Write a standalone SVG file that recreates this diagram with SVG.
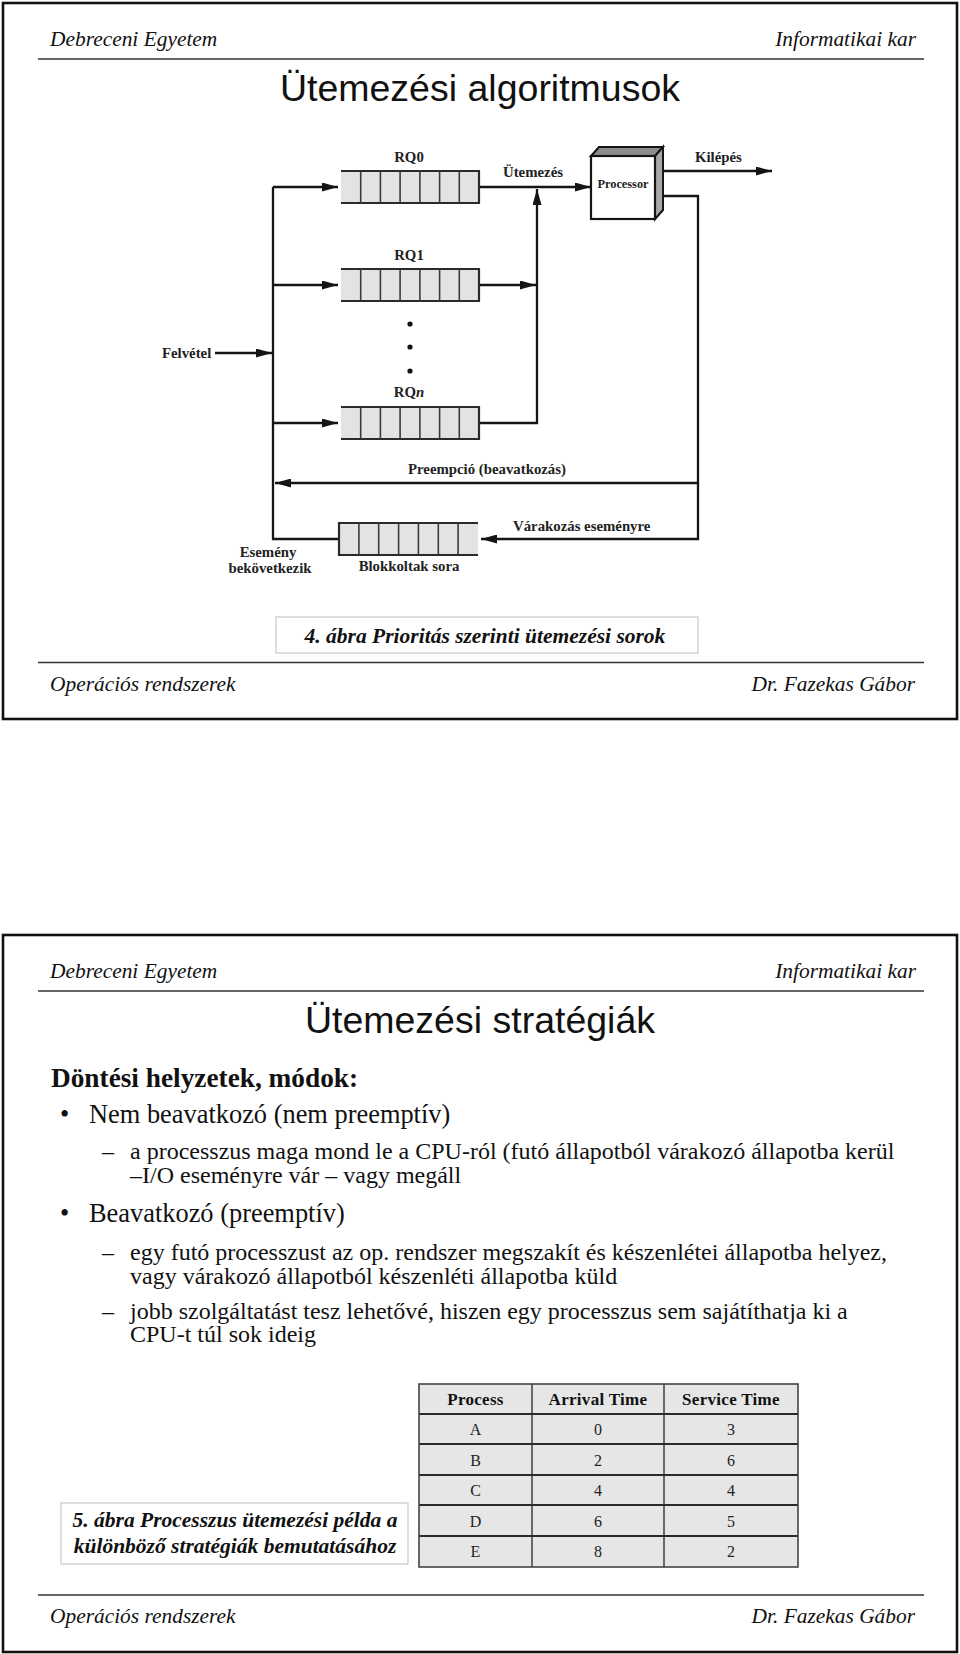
<svg xmlns="http://www.w3.org/2000/svg" width="960" height="1654" viewBox="0 0 960 1654">
<style>
.frame{fill:#fff;stroke:#111;stroke-width:2.6}
.rule{stroke:#333;stroke-width:1.5}
.hdr{font-family:"Liberation Serif",serif;font-style:italic;font-size:21.4px;fill:#111}
.title{font-family:"Liberation Sans",Arial,sans-serif;font-size:37.5px;fill:#111;text-anchor:middle}
.lbl{font-family:"Liberation Serif",serif;font-weight:bold;font-size:14.8px;fill:#222}
.plbl{font-family:"Liberation Serif",serif;font-weight:bold;font-size:12.3px;fill:#222;text-anchor:middle}
.c{text-anchor:middle}
.wire{fill:none;stroke:#151515;stroke-width:2.3}
.qfill{fill:#e3e3e3}
.qline{stroke:#2a2a2a;stroke-width:2.2}
.qdiv{stroke:#3a3a3a;stroke-width:1.6}
.cap{fill:#fff;stroke:#c8c8c8;stroke-width:1.2}
.captxt{font-family:"Liberation Serif",serif;font-style:italic;font-weight:bold;font-size:21.5px;fill:#111;text-anchor:middle}
.body{font-family:"Liberation Serif",serif;font-size:24px;fill:#111}
.l1{font-family:"Liberation Serif",serif;font-size:26.4px;fill:#111}
.bold{font-family:"Liberation Serif",serif;font-weight:bold;font-size:27.3px;fill:#111}
.cell{fill:#e6e6e6}
.th{font-family:"Liberation Serif",serif;font-weight:bold;font-size:17px;fill:#111;text-anchor:middle;letter-spacing:0.3px}
.td{font-family:"Liberation Serif",serif;font-size:16px;fill:#222;text-anchor:middle}
</style>
<defs>
<marker id="ah" markerUnits="userSpaceOnUse" markerWidth="16" markerHeight="9" refX="16" refY="4.5" orient="auto">
<path d="M0,0 L16,4.5 L0,9 z" fill="#151515"/>
</marker>
<g id="rq">
<rect class="qfill" x="0" y="0" width="138" height="32"/>
<line class="qline" x1="0" y1="0" x2="138" y2="0"/>
<line class="qline" x1="0" y1="32" x2="138" y2="32"/>
<line class="qdiv" x1="19.7" y1="0" x2="19.7" y2="32"/>
<line class="qdiv" x1="39.4" y1="0" x2="39.4" y2="32"/>
<line class="qdiv" x1="59.1" y1="0" x2="59.1" y2="32"/>
<line class="qdiv" x1="78.9" y1="0" x2="78.9" y2="32"/>
<line class="qdiv" x1="98.6" y1="0" x2="98.6" y2="32"/>
<line class="qdiv" x1="118.3" y1="0" x2="118.3" y2="32"/>
<line class="qline" x1="138" y1="-1" x2="138" y2="33"/>
</g>
<g id="bq">
<rect class="qfill" x="0" y="0" width="139" height="32"/>
<line class="qline" x1="0" y1="0" x2="139" y2="0"/>
<line class="qline" x1="0" y1="32" x2="139" y2="32"/>
<line class="qline" x1="0" y1="-1" x2="0" y2="33"/>
<line class="qdiv" x1="19.9" y1="0" x2="19.9" y2="32"/>
<line class="qdiv" x1="39.7" y1="0" x2="39.7" y2="32"/>
<line class="qdiv" x1="59.6" y1="0" x2="59.6" y2="32"/>
<line class="qdiv" x1="79.4" y1="0" x2="79.4" y2="32"/>
<line class="qdiv" x1="99.3" y1="0" x2="99.3" y2="32"/>
<line class="qdiv" x1="119.1" y1="0" x2="119.1" y2="32"/>
</g>
</defs>

<!-- Page 1 -->
<g id="page1">
<rect class="frame" x="3" y="3" width="954" height="716"/>
<text class="hdr" x="50" y="46">Debreceni Egyetem</text>
<text class="hdr" x="916" y="46" text-anchor="end">Informatikai kar</text>
<line class="rule" x1="38" y1="59" x2="924" y2="59"/>
<text class="title" x="480" y="101">Ütemezési algoritmusok</text>
<line class="rule" x1="38" y1="662.5" x2="924" y2="662.5"/>
<text class="hdr" x="50" y="691">Operációs rendszerek</text>
<text class="hdr" x="915" y="691" text-anchor="end">Dr. Fazekas Gábor</text>
</g>

<g id="connectors">
<line class="wire" x1="215" y1="353" x2="272" y2="353" marker-end="url(#ah)"/>
<path class="wire" d="M273,187 V539 H339"/>
<line class="wire" x1="273" y1="187" x2="338" y2="187" marker-end="url(#ah)"/>
<line class="wire" x1="273" y1="285" x2="338" y2="285" marker-end="url(#ah)"/>
<line class="wire" x1="273" y1="423" x2="338" y2="423" marker-end="url(#ah)"/>
<line class="wire" x1="479" y1="187" x2="591" y2="187" marker-end="url(#ah)"/>
<line class="wire" x1="479" y1="285" x2="536" y2="285" marker-end="url(#ah)"/>
<path class="wire" d="M479,423 H537 V189" marker-end="url(#ah)"/>
<line class="wire" x1="659" y1="171" x2="772" y2="171" marker-end="url(#ah)"/>
<path class="wire" d="M659,196 H698 V539 H481" marker-end="url(#ah)"/>
<line class="wire" x1="698" y1="483" x2="275" y2="483" marker-end="url(#ah)"/>
</g>

<g id="rq0">
<use href="#rq" x="341" y="171"/>
<text class="lbl c" x="409" y="162">RQ0</text>
</g>
<g id="rq1">
<use href="#rq" x="341" y="269"/>
<text class="lbl c" x="409" y="260">RQ1</text>
</g>
<g id="dots">
<circle cx="410" cy="324" r="2.6" fill="#111"/>
<circle cx="410" cy="347" r="2.6" fill="#111"/>
<circle cx="410" cy="371" r="2.6" fill="#111"/>
</g>
<g id="rqn">
<use href="#rq" x="341" y="407"/>
<text class="lbl c" x="409" y="397">RQ<tspan font-style="italic">n</tspan></text>
</g>
<g id="blokkolt">
<use href="#bq" x="339" y="523"/>
<text class="lbl c" x="409" y="571">Blokkoltak sora</text>
</g>
<g id="processor">
<polygon points="591,156 599,147 663,147 655,156" fill="#8c8c8c" stroke="#151515" stroke-width="2"/>
<polygon points="655,156 663,147 663,210 655,219" fill="#a8a8a8" stroke="#151515" stroke-width="2"/>
<rect x="591" y="156" width="64" height="63" fill="#fff" stroke="#151515" stroke-width="2.2"/>
<text class="plbl" x="623" y="188">Processor</text>
</g>
<g id="labels">
<text class="lbl" x="162" y="358">Felvétel</text>
<text class="lbl" x="503" y="177">Ütemezés</text>
<text class="lbl" x="695" y="162">Kilépés</text>
<text class="lbl" x="408" y="474">Preempció (beavatkozás)</text>
<text class="lbl" x="513" y="531">Várakozás eseményre</text>
<text class="lbl c" x="268" y="557">Esemény</text>
<text class="lbl c" x="270" y="573">bekövetkezik</text>
</g>
<g id="caption4">
<rect class="cap" x="276" y="617" width="422" height="36"/>
<text class="captxt" x="485" y="643">4. ábra Prioritás szerinti ütemezési sorok</text>
</g>

<!-- Page 2 -->
<g id="page2">
<rect class="frame" x="3" y="935" width="954" height="717"/>
<text class="hdr" x="50" y="978">Debreceni Egyetem</text>
<text class="hdr" x="916" y="978" text-anchor="end">Informatikai kar</text>
<line class="rule" x1="38" y1="991" x2="924" y2="991"/>
<text class="title" x="480" y="1033">Ütemezési stratégiák</text>
<line class="rule" x1="38" y1="1595" x2="924" y2="1595"/>
<text class="hdr" x="50" y="1623">Operációs rendszerek</text>
<text class="hdr" x="915" y="1623" text-anchor="end">Dr. Fazekas Gábor</text>
</g>
<g id="bodytext">
<text class="bold" x="51" y="1087">Döntési helyzetek, módok:</text>
<text class="l1" x="60" y="1123">•</text>
<text class="l1" x="89" y="1123">Nem beavatkozó (nem preemptív)</text>
<text class="body" x="102" y="1159">–</text>
<text class="body" x="130" y="1159">a processzus maga mond le a CPU-ról (futó állapotból várakozó állapotba kerül</text>
<text class="body" x="130" y="1183">–I/O eseményre vár – vagy megáll</text>
<text class="l1" x="60" y="1222">•</text>
<text class="l1" x="89" y="1222">Beavatkozó (preemptív)</text>
<text class="body" x="102" y="1260">–</text>
<text class="body" x="130" y="1260">egy futó processzust az op. rendszer megszakít és készenlétei állapotba helyez,</text>
<text class="body" x="130" y="1284">vagy várakozó állapotból készenléti állapotba küld</text>
<text class="body" x="102" y="1319">–</text>
<text class="body" x="130" y="1319">jobb szolgáltatást tesz lehetővé, hiszen egy processzus sem sajátíthatja ki a</text>
<text class="body" x="130" y="1342">CPU-t túl sok ideig</text>
</g>
<g id="table">
<rect class="cell" x="419" y="1384" width="379" height="183"/>
<g stroke="#333" stroke-width="1.4">
<line x1="532" y1="1384" x2="532" y2="1567"/>
<line x1="664" y1="1384" x2="664" y2="1567"/>
</g>
<g stroke="#2a2a2a" stroke-width="1.8">
<line x1="419" y1="1414" x2="798" y2="1414"/>
<line x1="419" y1="1444" x2="798" y2="1444"/>
<line x1="419" y1="1475" x2="798" y2="1475"/>
<line x1="419" y1="1505" x2="798" y2="1505"/>
<line x1="419" y1="1536" x2="798" y2="1536"/>
</g>
<rect x="419" y="1384" width="379" height="183" fill="none" stroke="#444" stroke-width="1.6"/>
<text class="th" x="475.5" y="1405">Process</text>
<text class="th" x="598" y="1405">Arrival Time</text>
<text class="th" x="731" y="1405">Service Time</text>
<text class="td" x="475.5" y="1435">A</text><text class="td" x="598" y="1435">0</text><text class="td" x="731" y="1435">3</text>
<text class="td" x="475.5" y="1466">B</text><text class="td" x="598" y="1466">2</text><text class="td" x="731" y="1466">6</text>
<text class="td" x="475.5" y="1496">C</text><text class="td" x="598" y="1496">4</text><text class="td" x="731" y="1496">4</text>
<text class="td" x="475.5" y="1527">D</text><text class="td" x="598" y="1527">6</text><text class="td" x="731" y="1527">5</text>
<text class="td" x="475.5" y="1557">E</text><text class="td" x="598" y="1557">8</text><text class="td" x="731" y="1557">2</text>
</g>
<g id="caption5">
<rect class="cap" x="61" y="1503" width="347" height="61"/>
<text class="captxt" x="235" y="1527">5. ábra Processzus ütemezési példa a</text>
<text class="captxt" x="235" y="1553">különböző stratégiák bemutatásához</text>
</g>
</svg>
